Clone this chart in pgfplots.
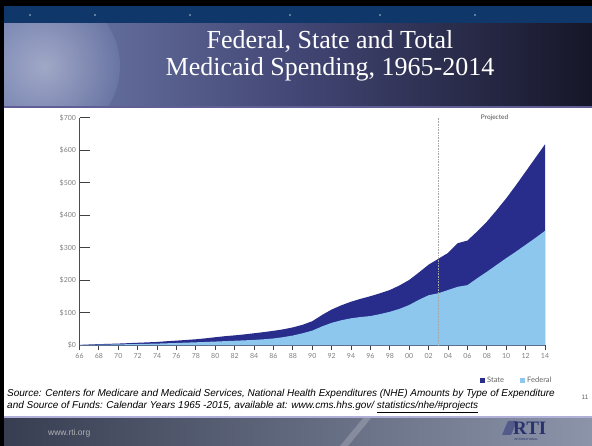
\documentclass[border=0pt]{standalone}
\usepackage{fontspec}
\setmainfont{Liberation Serif}
\newfontfamily\arial{Liberation Sans}
\newfontfamily\gill{Lato}
\usepackage{pgfplots}
\pgfplotsset{compat=1.18}
\usepackage{pgfplotstable}
\definecolor{stateblue}{RGB}{40,44,138}
\definecolor{fedblue}{RGB}{141,199,238}
\definecolor{bandblue}{RGB}{15,55,105}
\definecolor{titleL}{RGB}{115,128,175}
\definecolor{titleM}{RGB}{66,70,116}
\definecolor{titleR}{RGB}{22,22,40}
\definecolor{footL}{RGB}{55,62,82}
\definecolor{footR}{RGB}{140,148,170}
\definecolor{rtinavy}{RGB}{40,50,110}

\pgfplotstableread{
year total federal
1966 1.3 0.6
1967 2.5 1.2
1968 3.6 1.8
1969 4.4 2.3
1970 5.3 2.8
1971 6.5 3.4
1972 7.8 4.0
1973 9.0 4.6
1974 10.3 5.2
1975 12.5 6.2
1976 14.3 7.1
1977 16.4 8.2
1978 18.5 9.2
1979 21.4 10.3
1980 24.8 11.5
1981 28.0 12.8
1982 30.5 14.0
1983 33.5 15.2
1984 37.0 16.5
1985 40.5 18.5
1986 44.5 21.0
1987 49.0 25.0
1988 55.0 30.0
1989 63.0 37.0
1990 74.0 45.0
1991 93.0 58.0
1992 110.0 69.0
1993 123.0 77.0
1994 134.0 83.0
1995 143.0 87.0
1996 151.0 90.0
1997 160.0 96.0
1998 170.0 103.0
1999 184.0 112.0
2000 201.0 124.0
2001 224.0 140.0
2002 248.0 154.0
2003 266.0 160.0
2004 284.0 170.0
2005 314.0 180.0
2006 322.0 185.0
2007 350.0 206.0
2008 380.0 226.0
2009 415.0 247.0
2010 452.0 268.0
2011 492.0 288.0
2012 534.0 309.0
2013 576.0 330.0
2014 618.0 352.0
}\medicaid

\begin{document}
\begin{tikzpicture}[x=1pt,y=1pt]
\path[use as bounding box] (0,0) rectangle (592,446);
% slide background
\fill[black] (0,0) rectangle (592,446);
\fill[bandblue] (4,422) rectangle (592,440);
\foreach \dx in {30,95,190,290,380,475} {\fill[white!70!bandblue] (\dx,431) circle (0.8);}
\shade[left color=titleL, right color=titleR, middle color=titleM] (4,340) rectangle (592,422);
\begin{scope}
\clip (4,340) rectangle (592,422);
\shade[inner color=white!70!titleL, outer color=titleL, opacity=0.5] (45,380) circle (75);
\end{scope}
\fill[white] (4,30) rectangle (592,338.5);
\draw[line width=1.5pt, color={rgb,255:red,95;green,95;blue,150}] (4,339.2) -- (592,339.2);
\shade[left color=footL, right color=footR] (4,0) rectangle (592,29);
\fill[white!70!footR, opacity=0.25] (340,0) -- (348,0) -- (372,29) -- (364,29) -- cycle;
\draw[line width=1.2pt, color={rgb,255:red,175;green,175;blue,215}] (4,29) -- (592,29);
% title
\node[text=white, font=\fontsize{26}{30}\selectfont] at (330,405) {Federal, State and Total};
\node[text=white, font=\fontsize{26}{30}\selectfont] at (330,377) {Medicaid Spending, 1965-2014};
% chart
\begin{axis}[
  at={(79.5pt,100.7pt)}, anchor=south west,
  scale only axis, width=465.5pt, height=227.6pt,
  xmin=1966, xmax=2014, ymin=0, ymax=700,
  axis x line*=bottom, axis y line*=left,
  axis line style={draw=black!70, line width=1pt},
  xtick={1966,1968,...,2014},
  xticklabels={66,68,70,72,74,76,78,80,82,84,86,88,90,92,94,96,98,00,02,04,06,08,10,12,14},
  ytick={0,100,...,700},
  yticklabels={\$0,\$100,\$200,\$300,\$400,\$500,\$600,\$700},
  tick label style={font=\gill\fontsize{7}{8}\selectfont, text=black!50},
  ytick align=inside, xtick align=outside,
  ytick style={draw=black!75, line width=1pt, /pgfplots/major tick length=10pt},
  xtick style={draw=black!75, line width=0.8pt, /pgfplots/major tick length=5pt},
  clip=false,
  legend style={at={(1.025,-0.153)}, anchor=east, draw=none, fill=none,
    font=\gill\fontsize{7.5}{8}\selectfont, text=black!60, legend columns=2,
    /tikz/every even column/.append style={column sep=14pt}},
  legend image code/.code={\fill[#1] (0,-0.9mm) rectangle (1.8mm,0.9mm);},
]
\addplot[draw=none, fill=stateblue] table[x=year,y=total]{\medicaid} \closedcycle;
\addplot[draw=none, fill=fedblue] table[x=year,y=federal]{\medicaid} \closedcycle;
\legend{State, Federal}
\draw[black!35, densely dotted, line width=0.6pt] (axis cs:2003,0) -- (axis cs:2003,700);
\node[font=\gill\fontsize{6.5}{7}\selectfont, text=black!70] at (axis cs:2008.8,700) {Projected};
\end{axis}
% source text
\node[anchor=base west, inner sep=0, font=\arial\itshape\fontsize{10}{12}\selectfont] at (7,49) {Source: Centers for Medicare and Medicaid Services, National Health Expenditures (NHE) Amounts by Type of Expenditure};
\node[anchor=base west, inner sep=0, font=\arial\itshape\fontsize{10}{12}\selectfont] at (7,37) {and Source of Funds: Calendar Years 1965 -2015, available at: www.cms.hhs.gov/ \underline{statistics/nhe/\#projects}};
\node[anchor=base, inner sep=0, font=\arial\fontsize{6.5}{7}\selectfont, text=black!60] at (585,46) {11};
% footer
\node[anchor=west, inner sep=0, text=black!30, font=\arial\fontsize{8.5}{9}\selectfont] at (48,13) {www.rti.org};
\fill[rtinavy!80] (502,11) -- (511,11) -- (517,25) -- (508,25) -- cycle;
\node[anchor=base west, inner sep=0, text=rtinavy, font=\bfseries\fontsize{19}{19}\selectfont] at (513,11) {RTI};
\node[anchor=base west, inner sep=0, text=rtinavy, font=\arial\fontsize{3}{3}\selectfont] at (514,5) {INTERNATIONAL};
\end{tikzpicture}
\end{document}
